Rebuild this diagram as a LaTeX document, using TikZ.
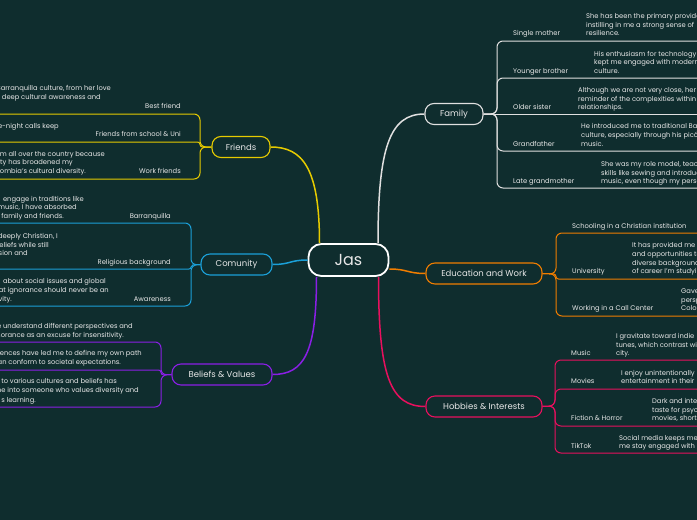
\documentclass[tikz,border=0pt]{standalone}
\usepackage{fontspec}
\setmainfont{Poppins}
\definecolor{bg}{HTML}{0F2D2E}
\definecolor{txt}{HTML}{E8E8E8}
\definecolor{famc}{HTML}{E0E0E0}
\definecolor{fric}{HTML}{E6CB00}
\definecolor{comc}{HTML}{1BA0D8}
\definecolor{belc}{HTML}{8A1FE6}
\definecolor{educ}{HTML}{F07D00}
\definecolor{hobc}{HTML}{E8105E}
\newcommand\txtlines[5]{%
  \foreach \mytext [count=\i] in {#5} {
    \node[desc, anchor=#2] (#1-\i) at ({#3},{#4+8.7*(\i-1)}) {\mytext};
  }}
\begin{document}
\begin{tikzpicture}[x=1pt,y=-1pt,
  mainbox/.style={draw, fill=bg, text=txt, rounded corners=9pt, line width=1.1pt,
    minimum height=21pt, inner sep=0pt, font=\fontsize{8.5}{10}\selectfont},
  conn/.style={line width=1.5pt},
  leafline/.style={line width=1pt, rounded corners=6pt},
  lab/.style={text=txt, inner sep=0pt, font=\fontsize{6.75}{8}\selectfont},
  desc/.style={lab}]
\useasboundingbox (0,0) rectangle (697,520);
\fill[bg] (0,0) rectangle (697,520);
\clip (0,0) rectangle (697,520);

% main nodes
\node[draw=white, fill=bg, text=txt, line width=1.8pt, rounded corners=13pt,
  minimum width=80pt, minimum height=32pt, inner sep=0pt,
  font=\fontsize{16}{18}\selectfont] (jas) at (348.5,260) {Jas};
\node[mainbox, draw=famc, minimum width=58pt] (fam) at (454,114) {Family};
\node[mainbox, draw=educ, minimum width=116pt] (edu) at (484,273.5) {Education and Work};
\node[mainbox, draw=hobc, minimum width=116pt] (hob) at (484,406.5) {Hobbies \& Interests};
\node[mainbox, draw=comc, minimum width=71pt] (com) at (236.5,264.5) {Comunity};
\node[mainbox, draw=fric, minimum width=58pt] (fri) at (241,147) {Friends};
\node[mainbox, draw=belc, minimum width=100pt] (bel) at (222,374.5) {Beliefs \& Values};

% main connectors
\draw[conn, famc] ([xshift=29.5pt]jas.north) .. controls +(0,-95) and +(-35,0) .. (fam.west);
\draw[conn, fric] ([xshift=-29pt]jas.north) .. controls +(0,-75) and +(32,0) .. (fri.east);
\draw[conn, comc] (jas.west) .. controls +(-18,0) and +(18,0) .. (com.east);
\draw[conn, educ] ([yshift=-9pt]jas.east) .. controls +(18,0) and +(-18,0) .. (edu.west);
\draw[conn, belc] ([xshift=-32pt]jas.south) .. controls +(0,75) and +(32,0) .. (bel.east);
\draw[conn, hobc] ([xshift=30pt]jas.south) .. controls +(0,100) and +(-35,0) .. (hob.west);

% Family branches
\coordinate (famj) at (497,114);
\foreach \yy in {41,78,151,188} \draw[leafline, famc] (fam.east) -- (famj) |- (710,\yy);
\draw[leafline, famc] (fam.east) -- (710,114);
\node[lab, anchor=mid west] (l-sm) at (513,33) {Single mother};
\txtlines{d-sm}{mid west}{586}{15.6}{{She has been the primary provider,},{instilling in me a strong sense of},{resilience.}}
\node[lab, anchor=mid west] (l-yb) at (513,70.7) {Younger brother};
\txtlines{d-yb}{mid west}{594}{53.3}{{His enthusiasm for technology},{kept me engaged with modern},{culture.}}
\node[lab, anchor=mid west] (l-os) at (513,107) {Older sister};
\txtlines{d-os}{mid west}{578}{89.6}{{Although we are not very close, her},{reminder of the complexities within},{relationships.}}
\node[lab, anchor=mid west] (l-gf) at (513,143.5) {Grandfather};
\txtlines{d-gf}{mid west}{581}{126.1}{{He introduced me to traditional Barranquilla},{culture, especially through his picó},{music.}}
\node[lab, anchor=mid west] (l-lg) at (513,181) {Late grandmother};
\txtlines{d-lg}{mid west}{601}{163.6}{{She was my role model, teaching},{skills like sewing and introducing},{music, even though my personal}}

% Education branches
\coordinate (eduj) at (556,274);
\draw[leafline, educ] (edu.east) -- (eduj) |- (710,233);
\draw[leafline, educ] (edu.east) -- (eduj) |- (710,316);
\draw[leafline, educ, rounded corners=2.5pt] (edu.east) -- (eduj) |- (710,279);
\node[lab, anchor=mid west] (l-sc) at (572,225.5) {Schooling in a Christian institution};
\node[lab, anchor=mid west] (l-un) at (572,271) {University};
\txtlines{d-un}{mid west}{632}{244.9}{{It has provided me},{and opportunities to},{diverse backgrounds},{of career I'm studying}}
\node[lab, anchor=mid west] (l-cc) at (572,308) {Working in a Call Center};
\txtlines{d-cc}{mid west}{681}{290.6}{{Gave},{perspective},{Colombia}}

% Hobbies branches
\coordinate (hobj) at (555,406);
\foreach \yy in {360,389,426,453} \draw[leafline, hobc] (hob.east) -- (hobj) |- (710,\yy);
\node[lab, anchor=mid west] (l-mu) at (571,353) {Music};
\txtlines{d-mu}{mid west}{616}{335.6}{{I gravitate toward indie},{tunes, which contrast with},{city.}}
\node[lab, anchor=mid west] (l-mo) at (571,381) {Movies};
\txtlines{d-mo}{mid west}{621}{372.3}{{I enjoy unintentionally},{entertainment in their}}
\node[lab, anchor=mid west] (l-fh) at (571,418) {Fiction \& Horror};
\txtlines{d-fh}{mid west}{652}{400.6}{{Dark and intense},{taste for psychological},{movies, short}}
\node[lab, anchor=mid west] (l-tt) at (571,446) {TikTok};
\txtlines{d-tt}{mid west}{619}{437.3}{{Social media keeps me},{me stay engaged with}}

% Friends branches
\coordinate (frij) at (200,147);
\draw[leafline, fric] (fri.west) -- (frij) |- (-10,114);
\draw[leafline, fric] (fri.west) -- (frij) |- (-10,179);
\draw[leafline, fric, rounded corners=2.5pt] (fri.west) -- (frij) |- (-10,142);
\node[lab, anchor=mid east] (l-bf) at (181,106) {Best friend};
\node[desc, anchor=mid east] (d-bf-1) at (111,88) {Barranquilla culture, from her love};
\node[desc, anchor=mid east] (d-bf-2) at (101,97) {her deep cultural awareness and};
\node[lab, anchor=mid east] (l-fs) at (181,134) {Friends from school \& Uni};
\node[desc, anchor=mid east] (d-fs-1) at (59,125.5) {late-night calls keep};
\node[lab, anchor=mid east] (l-wf) at (181,171) {Work friends};
\node[desc, anchor=mid east] (d-wf-1) at (105,153.3) {from all over the country because};
\node[desc, anchor=mid east] (d-wf-2) at (73,162) {diversity has broadened my};
\node[desc, anchor=mid east] (d-wf-3) at (86,171) {Colombia's cultural diversity.};

% Comunity branches
\coordinate (comj) at (191,265);
\draw[leafline, comc] (com.west) -- (comj) |- (-10,223);
\draw[leafline, comc] (com.west) -- (comj) |- (-10,306);
\draw[leafline, comc, rounded corners=2pt] (com.west) -- (comj) |- (-10,269);
\node[lab, anchor=mid east] (l-ba) at (171,216) {Barranquilla};
\node[desc, anchor=mid east] (d-ba-1) at (84,198.3) {engage in traditions like};
\node[desc, anchor=mid east] (d-ba-2) at (77,207) {music, I have absorbed};
\node[desc, anchor=mid east] (d-ba-3) at (64,216) {family and friends.};
\node[lab, anchor=mid east] (l-rb) at (171,262) {Religious background};
\node[desc, anchor=mid east] (d-rb-1) at (58,235.7) {deeply Christian, I};
\node[desc, anchor=mid east] (d-rb-2) at (49,244.3) {beliefs while still};
\node[desc, anchor=mid east] (d-rb-3) at (28,253) {sion and};
\node[lab, anchor=mid east] (l-aw) at (171,299) {Awareness};
\node[desc, anchor=mid east] (d-aw-1) at (106,281) {about social issues and global};
\node[desc, anchor=mid east] (d-aw-2) at (109,290) {that ignorance should never be an};
\node[desc, anchor=mid east] (d-aw-3) at (12,299) {ivity.};

% Beliefs branches
\coordinate (belj) at (161,375);
\draw[leafline, belc] (bel.west) -- (belj) |- (-10,342);
\draw[leafline, belc] (bel.west) -- (belj) |- (-10,407);
\draw[leafline, belc, rounded corners=2.5pt] (bel.west) -- (belj) |- (-10,370);
\node[desc, anchor=mid east] (d-b1-1) at (133,325.7) {me understand different perspectives and};
\node[desc, anchor=mid east] (d-b1-2) at (124,334.3) {ignorance as an excuse for insensitivity.};
\node[desc, anchor=mid east] (d-b2-1) at (142,353) {experiences have led me to define my own path};
\node[desc, anchor=mid east] (d-b2-2) at (121,362) {than conform to societal expectations.};
\node[desc, anchor=mid east] (d-b3-1) at (117,381) {to various cultures and beliefs has};
\node[desc, anchor=mid east] (d-b3-2) at (139,390) {me into someone who values diversity and};
\node[desc, anchor=mid east] (d-b3-3) at (36,399.3) {s learning.};
\end{tikzpicture}
\end{document}
